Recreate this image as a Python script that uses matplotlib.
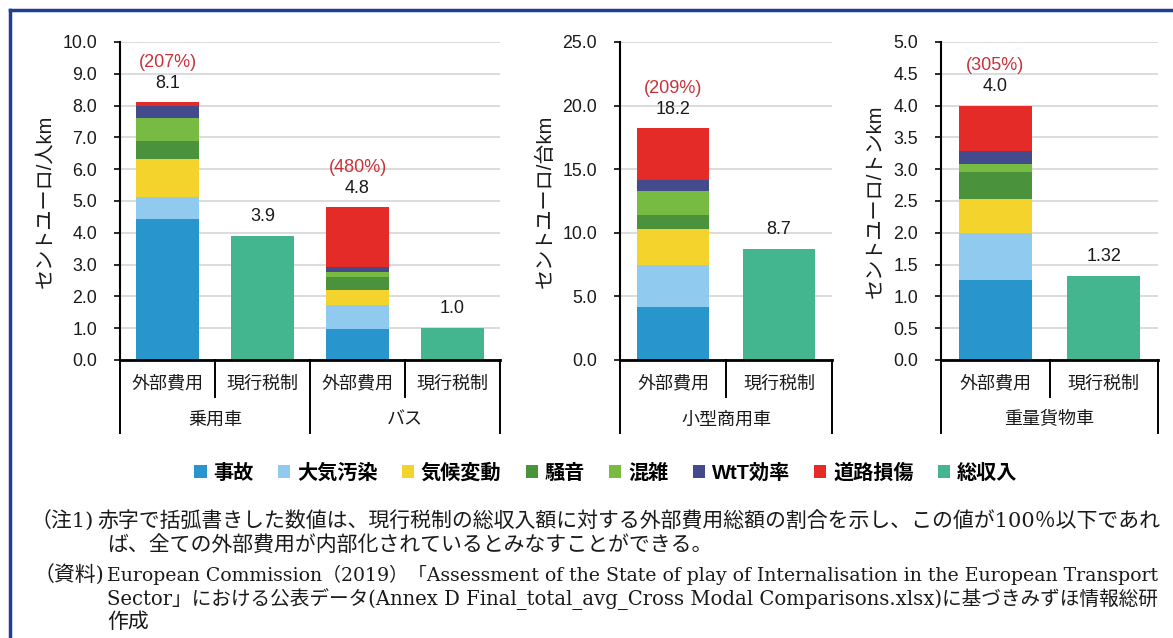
import matplotlib
matplotlib.use("Agg")
import matplotlib.pyplot as plt
import matplotlib.transforms as mtransforms
from matplotlib.patches import Patch
from matplotlib.lines import Line2D
from matplotlib.ticker import FormatStrFormatter
import numpy as np

W, H, DPI = 1173, 638, 100

plt.rcParams['font.family'] = ['Liberation Sans', 'Noto Sans CJK JP']

# ---- data ----------------------------------------------------------------
components = ['事故', '大気汚染', '気候変動', '騒音', '混雑', 'WtT効率', '道路損傷']
revenue_name = '総収入'
bar_labels = ['外部費用', '現行税制']

vehicles = ['乗用車', 'バス', '小型商用車', '重量貨物車']
units = ['セントユーロ/人km', 'セントユーロ/台km', 'セントユーロ/トンkm']

# external cost breakdown (euro cents per unit), stacked in component order
car_costs = [4.44, 0.70, 1.19, 0.55, 0.73, 0.38, 0.11]
bus_costs = [0.97, 0.75, 0.47, 0.43, 0.14, 0.16, 1.88]
van_costs = [4.16, 3.30, 2.80, 1.13, 1.93, 0.87, 4.01]
truck_costs = [1.25, 0.75, 0.53, 0.42, 0.13, 0.20, 0.72]

# total revenue from current taxes and charges
revenues = [3.9, 1.0, 8.7, 1.32]
revenue_decimals = [1, 1, 1, 2]

# external cost as a share of current revenue
cost_ratio_pct = [207, 480, 209, 305]

note_lines = [
    ('（注1)', '赤字で括弧書きした数値は、現行税制の総収入額に対する外部費用総額の割合を示し、この値が100％以下であれ'),
    ('', 'ば、全ての外部費用が内部化されているとみなすことができる。'),
    ('（資料)', 'European Commission（2019）「Assessment of the State of play of Internalisation in the European Transport'),
    ('', 'Sector」における公表データ(Annex D Final_total_avg_Cross Modal Comparisons.xlsx)に基づきみずほ情報総研'),
    ('', '作成'),
]

# ---- styling -------------------------------------------------------------
comp_colors = ['#2896cc', '#91caef', '#f4d42c', '#4a933c', '#78bb42', '#444b8c', '#e52b27']
revenue_color = '#43b68f'
ratio_color = '#c8333a'
frame_color = '#1f3f91'
text_color = '#1a1a1a'

fig = plt.figure(figsize=(W / DPI, H / DPI), dpi=DPI)


def fx(px):
    return px / W


def fy(py):
    return 1 - py / H


# panel layout in pixels: (left, top, right, bottom), y max, tick step, ylabel x
panel_specs = [
    dict(box=(120, 42, 500, 360), ymax=10.0, step=1.0, unit=units[0], ylab_x=45,
         groups=[0, 1]),
    dict(box=(620, 42, 832, 360), ymax=25.0, step=5.0, unit=units[1], ylab_x=545,
         groups=[2]),
    dict(box=(941, 42, 1158, 360), ymax=5.0, step=0.5, unit=units[2], ylab_x=875,
         groups=[3]),
]
all_costs = [car_costs, bus_costs, van_costs, truck_costs]

BAR_W = 0.67
TICK_Y, GROUP_Y, SHORT_Y, LONG_Y = 384, 420, 397, 433
LABEL_SIZE = 13

for spec in panel_specs:
    l, t, r, b = spec['box']
    ax = fig.add_axes([fx(l), fy(b), fx(r) - fx(l), (b - t) / H])
    n = 2 * len(spec['groups'])
    ax.set_xlim(-0.5, n - 0.5)
    ax.set_ylim(0, spec['ymax'])

    for gi, g in enumerate(spec['groups']):
        xc = 2 * gi
        xr = 2 * gi + 1
        costs = all_costs[g]
        bottom = 0.0
        for val, col in zip(costs, comp_colors):
            ax.bar(xc, val, BAR_W, bottom=bottom, color=col, linewidth=0, zorder=2)
            bottom += val
        total = bottom
        ax.bar(xr, revenues[g], BAR_W, color=revenue_color, linewidth=0, zorder=2)

        ax.annotate(f'{total:.1f}', xy=(xc, total), xytext=(0, 13.7),
                    textcoords='offset points', ha='center', va='center',
                    fontsize=13, color=text_color)
        ax.annotate(f'({cost_ratio_pct[g]}%)', xy=(xc, total), xytext=(0, 29),
                    textcoords='offset points', ha='center', va='center',
                    fontsize=13, color=ratio_color)
        ax.annotate(f'{revenues[g]:.{revenue_decimals[g]}f}', xy=(xr, revenues[g]),
                    xytext=(0, 14), textcoords='offset points', ha='center',
                    va='center', fontsize=13, color=text_color)

    # axes styling
    for s in ('top', 'right'):
        ax.spines[s].set_visible(False)
    ax.spines['left'].set_linewidth(1.5)
    ax.spines['bottom'].set_linewidth(2.0)
    ax.set_yticks(np.arange(0, spec['ymax'] + spec['step'] / 2, spec['step']))
    ax.yaxis.set_major_formatter(FormatStrFormatter('%.1f'))
    ax.tick_params(axis='y', length=4, width=1.3, pad=12.5, labelsize=12.8,
                   colors=text_color)
    ax.tick_params(axis='x', length=0, labelbottom=False)
    ax.yaxis.grid(True, color='#d9d9d9', linewidth=1.3)
    ax.set_axisbelow(True)

    fig.text(fx(spec['ylab_x']), fy((t + b) / 2), spec['unit'], rotation=90,
             ha='center', va='center', fontsize=14.5, color=text_color)

    # two-level category axis below the plot
    tr = mtransforms.blended_transform_factory(ax.transData, fig.transFigure)
    for gi, g in enumerate(spec['groups']):
        for k in range(2):
            ax.text(2 * gi + k, fy(TICK_Y), bar_labels[k], transform=tr,
                    ha='center', va='center', fontsize=LABEL_SIZE, color=text_color)
        ax.text(2 * gi + 0.5, fy(GROUP_Y), vehicles[g], transform=tr,
                ha='center', va='center', fontsize=LABEL_SIZE, color=text_color)
        ax.add_line(Line2D([2 * gi + 0.5] * 2, [fy(b), fy(SHORT_Y)], transform=tr,
                           color='black', lw=1.4, clip_on=False))
    for xb in np.arange(-0.5, n, 2):
        ax.add_line(Line2D([xb] * 2, [fy(b), fy(LONG_Y)], transform=tr,
                           color='black', lw=1.4, clip_on=False))

# legend
handles = [Patch(facecolor=c, edgecolor='none') for c in comp_colors]
handles.append(Patch(facecolor=revenue_color, edgecolor='none'))
fig.legend(handles, components + [revenue_name], loc='center',
           bbox_to_anchor=(fx(606), fy(473)), ncol=8, frameon=False,
           handlelength=0.6, handleheight=0.6, handletextpad=0.35,
           columnspacing=1.2, borderaxespad=0,
           prop={'size': 14.5, 'weight': 'bold'})

# notes: each line is sized so it spans the text block between its margins
note_font = ['DejaVu Serif', 'Noto Sans CJK JP']
line_y = [521, 545, 575, 599, 622]
body_left = [97, 107, 107, 107, 107]
fit_right = {0: 1157, 2: 1160, 3: 1157}
renderer = fig.canvas.get_renderer()


def fit_size(text, width, base=13.0):
    w = text.get_window_extent(renderer).width
    return base * width / w


body_texts = []
for i, (head, body) in enumerate(note_lines):
    t = fig.text(fx(body_left[i]), fy(line_y[i]), body, ha='left', va='center',
                 fontsize=13.0, family=note_font, color=text_color)
    body_texts.append(t)

sizes = {i: fit_size(body_texts[i], fit_right[i] - body_left[i]) for i in fit_right}
sizes[1] = sizes[0]
sizes[4] = sizes[0]
for i, t in enumerate(body_texts):
    t.set_fontsize(sizes[i])

for i, (head, body) in enumerate(note_lines):
    if head:
        fig.text(fx(body_left[i] - 3), fy(line_y[i]), head, ha='right', va='center',
                 fontsize=sizes[0], family=note_font, color=text_color)

# outer frame: top and left rules
fig.add_artist(Line2D([fx(10), 1.0], [fy(10), fy(10)], transform=fig.transFigure,
                      color=frame_color, lw=2.5))
fig.add_artist(Line2D([fx(10), fx(10)], [fy(10), 0.0], transform=fig.transFigure,
                      color=frame_color, lw=2.5))

fig.savefig('out.png', dpi=DPI, facecolor='white')
